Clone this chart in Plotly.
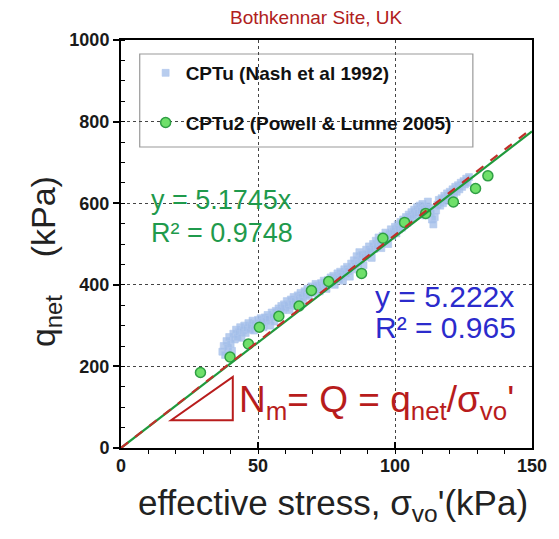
import plotly.graph_objects as go

# CPTu profile (Nash et al 1992): effective stress (kPa) vs net cone resistance (kPa)
cptu_sigma = [37, 37.5, 38, 38.5, 39, 39.5, 40, 40.5, 41, 41.5, 42, 42.5, 43, 43.5, 44, 44.5,
              45, 45.5, 46, 46.5, 47, 47.5, 48, 48.5, 49, 49.5, 50, 50.5, 51, 51.5, 52, 52.5,
              53, 53.5, 54, 54.5, 55, 55.5, 56, 56.5, 57, 57.5, 58, 58.5, 59, 59.5, 60, 60.5,
              61, 61.5, 62, 62.5, 63, 63.5, 64, 64.5, 65, 65.5, 66, 66.5, 67, 67.5, 68, 68.5,
              69, 69.5, 70, 70.5, 71, 71.5, 72, 72.5, 73, 73.5, 74, 74.5, 75, 75.5, 76, 76.5,
              77, 77.5, 78, 78.5, 79, 79.5, 80, 80.5, 81, 81.5, 82, 82.5, 83, 83.5, 84, 84.5,
              85, 85.5, 86, 86.5, 87, 87.5, 88, 88.5, 89, 89.5, 90, 90.5, 91, 91.5, 92, 92.5,
              93, 93.5, 94, 94.5, 95, 95.5, 96, 96.5, 97, 97.5, 98, 98.5, 99, 99.5, 100, 100.5,
              101, 101.5, 102, 102.5, 103, 103.5, 104, 104.5, 105, 105.5, 106, 106.5, 107, 107.5,
              108, 108.5, 109, 109.5, 110, 110.5, 111, 111.5, 112, 112.5, 113, 113.5, 114, 114.5,
              115, 115.5, 116, 116.5, 117, 117.5, 118, 118.5, 119, 119.5, 120, 120.5, 121, 121.5,
              122, 122.5, 123, 123.5, 124, 124.5, 125, 125.5, 126, 126.5, 127]
cptu_qnet = [236, 250, 228, 262, 245, 272, 255, 238, 280, 266, 290, 272, 284, 296, 270, 288,
             300, 282, 294, 306, 290, 300, 312, 288, 305, 296, 314, 302, 318, 308, 296, 320,
             312, 326, 316, 300, 332, 322, 310, 336, 326, 342, 334, 348, 338, 352, 344, 360,
             350, 338, 364, 354, 370, 360, 348, 374, 366, 380, 370, 360, 384, 376, 390, 372,
             386, 396, 380, 392, 402, 388, 398, 384, 404, 394, 410, 400, 390, 412, 404, 418,
             408, 422, 400, 416, 428, 414, 432, 422, 410, 438, 428, 444, 434, 420, 452, 438,
             460, 446, 470, 452, 480, 462, 474, 448, 468, 486, 476, 494, 482, 466, 500, 488,
             508, 494, 516, 502, 490, 520, 510, 528, 514, 500, 524, 536, 520, 530, 542, 526,
             548, 536, 554, 540, 560, 548, 566, 552, 572, 560, 578, 564, 584, 570,
             590, 576, 594, 582, 598, 586, 570, 592, 604, 588, 575, 560, 548, 566,
             582, 596, 608, 594, 612, 600, 618, 606, 624, 612, 628, 618, 634, 622,
             640, 628, 644, 634, 650, 640, 654, 646, 660, 650, 664]

# CPTu2 profile (Powell & Lunne 2005)
cptu2_sigma = [29, 39.8, 46.5, 50.5, 57.6, 65, 69.5, 75.8, 87.8, 95.6, 103.5, 111.2, 121.3, 129.4, 133.9]
cptu2_qnet = [185, 223, 255, 296, 323, 348, 386, 408, 428, 514, 553, 575, 603, 636, 667]

# Regression slopes through the origin
slope_cptu2 = 5.1745
slope_cptu = 5.222
fit_x = [0, 150]

fig = go.Figure()

fig.add_trace(go.Scatter(
    x=cptu_sigma, y=cptu_qnet, mode="markers", name="CPTu (Nash et al 1992)",
    legendgroup="a",
    marker=dict(symbol="square", size=7, color="rgba(160,188,232,0.75)",
                line=dict(color="rgba(175,198,236,0.6)", width=1)),
))
fig.add_trace(go.Scatter(
    x=cptu2_sigma, y=cptu2_qnet, mode="markers", name="CPTu2 (Powell & Lunne 2005)",
    legendgroup="b",
    marker=dict(symbol="circle", size=10, color="#6fe06a",
                line=dict(color="#2f9e44", width=1.5)),
))
fig.add_trace(go.Scatter(
    x=fit_x, y=[v * slope_cptu2 for v in fit_x], mode="lines", showlegend=False,
    line=dict(color="#1f9a3c", width=2.2),
))
fig.add_trace(go.Scatter(
    x=fit_x, y=[v * slope_cptu for v in fit_x], mode="lines", showlegend=False,
    line=dict(color="#c0302a", width=2.2, dash="dash"),
))

axis_common = dict(
    showline=True, linecolor="black", linewidth=2, mirror=True,
    showgrid=True, gridcolor="#444", gridwidth=1, griddash="dot",
    zeroline=False,
    tickfont=dict(family="Liberation Sans, Arial", size=18, color="#1a1a1a", weight="bold"),
    tickcolor="black", tickwidth=1.5, ticklen=6,
)

fig.update_xaxes(
    range=[0, 150], tickvals=[0, 50, 100, 150], ticks="inside",
    minor=dict(dtick=10, ticks="outside", ticklen=4, tickcolor="black", tickwidth=1, showgrid=False),
    **axis_common,
)
fig.update_yaxes(
    range=[0, 1000], tickvals=[0, 200, 400, 600, 800, 1000], ticks="outside",
    minor=dict(dtick=50, ticks="inside", ticklen=4, tickcolor="black", tickwidth=1, showgrid=False),
    **axis_common,
)

# Slope triangle
fig.add_shape(type="path", path="M 18.3,68 L 40.8,68 L 40.8,174 Z",
              xref="x", yref="y", line=dict(color="#b81c1c", width=2))

# Legend frame
fig.add_shape(type="rect", xref="paper", yref="paper",
              x0=(140 - 121) / 417, x1=(478 - 121) / 417,
              y0=(448 - 147) / 408, y1=(448 - 54) / 408,
              line=dict(color="#999", width=1.2), fillcolor="white", layer="below")

ann_font = "Liberation Sans, Arial"
annotations = [
    dict(text="Bothkennar Site, UK", x=319, y=18, font=dict(size=19, color="#b02020")),
    dict(text="y = 5.1745x", x=149, y=200, xanchor="left", font=dict(size=27, color="#1f9a4c")),
    dict(text="R² = 0.9748", x=149, y=233, xanchor="left", font=dict(size=27, color="#1f9a4c")),
    dict(text="y = 5.222x", x=377, y=296, xanchor="left", font=dict(size=30, color="#2b2bcc")),
    dict(text="R² = 0.965", x=377, y=327, xanchor="left", font=dict(size=30, color="#2b2bcc")),
    dict(text="N<sub>m</sub>= Q = q<sub>net</sub>/σ<sub>vo</sub>'", x=239, y=402, xanchor="left",
         font=dict(size=37, color="#b81c1c")),
    dict(text="effective stress, σ<sub>vo</sub>'(kPa)", x=336, y=505,
         font=dict(size=35, color="#222")),
    dict(text="q<sub>net</sub>    (kPa)", x=44, y=262, textangle=-90,
         font=dict(size=34, color="#222")),
]
for a in annotations:
    # convert from page pixels to paper fractions of the plotting area
    px, py = a.pop("x"), a.pop("y")
    a["font"]["family"] = ann_font
    fig.add_annotation(xref="paper", yref="paper", x=(px - 121) / 417, y=(448 - py) / 408,
                       showarrow=False, yanchor="middle", xanchor=a.pop("xanchor", "center"), **a)

fig.update_layout(
    width=559, height=539,
    margin=dict(l=121, r=21, t=40, b=91),
    paper_bgcolor="white", plot_bgcolor="white",
    showlegend=True,
    legend=dict(x=(146 - 121) / 417, y=(448 - 54) / 408, xanchor="left", yanchor="top",
                bgcolor="rgba(0,0,0,0)", borderwidth=0, tracegroupgap=22,
                font=dict(family="Liberation Sans, Arial", size=19, color="#111", weight="bold"),
                itemwidth=30),
)

fig.write_html("out.html")
